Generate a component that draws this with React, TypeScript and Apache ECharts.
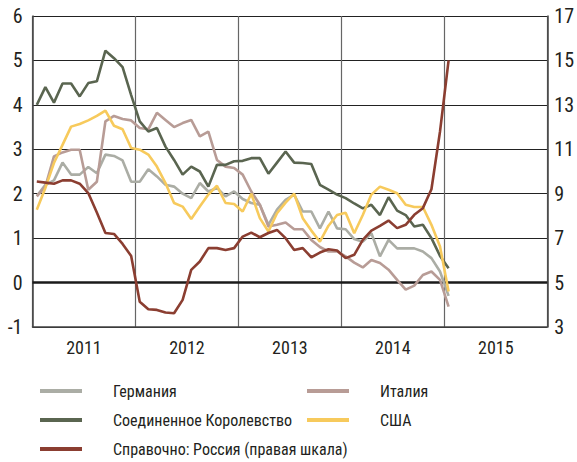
import React, { useEffect, useRef } from "react";
import * as echarts from "echarts";

const years = ["2011", "2012", "2013", "2014", "2015"];
const leftTicks = [-1, 0, 1, 2, 3, 4, 5, 6];
const rightTicks = [3, 5, 7, 9, 11, 13, 15, 17];

// Monthly values, Jan 2011 .. Jan 2015
const germany = [
  1.95, 2.2, 2.3, 2.7, 2.43, 2.43, 2.6, 2.46, 2.88, 2.85, 2.75, 2.27,
  2.27, 2.55, 2.39, 2.2, 2.16, 2.0, 1.9, 2.24, 2.05, 2.13, 1.94, 2.05,
  1.88, 1.79, 1.75, 1.3, 1.64, 1.86, 1.98, 1.6, 1.6, 1.22, 1.6, 1.22,
  1.2, 0.98, 0.92, 1.11, 0.59, 0.96, 0.77, 0.77, 0.77, 0.7, 0.55, 0.25, -0.3,
];
const italy = [
  1.94, 2.16, 2.84, 2.93, 2.99, 2.99, 2.09, 2.27, 3.63, 3.75, 3.68, 3.65,
  3.48, 3.45, 3.82, 3.66, 3.5, 3.59, 3.66, 3.29, 3.4, 2.76, 2.61, 2.58,
  2.43, 2.05, 1.75, 1.26, 1.3, 1.35, 1.2, 1.2, 0.96, 0.8, 0.7, 0.7,
  0.59, 0.45, 0.34, 0.51, 0.44, 0.29, 0.06, -0.16, -0.07, 0.17, 0.25, 0.06, -0.54,
];
const uk = [
  4.0, 4.4, 4.05, 4.48, 4.48, 4.19, 4.49, 4.53, 5.22, 5.05, 4.85, 4.22,
  3.63, 3.4, 3.48, 3.06, 2.76, 2.43, 2.61, 2.5, 2.16, 2.65, 2.65, 2.73,
  2.74, 2.8, 2.8, 2.45, 2.7, 2.95, 2.7, 2.69, 2.67, 2.2, 2.09, 1.98,
  1.9, 1.78, 1.67, 1.75, 1.52, 1.92, 1.62, 1.52, 1.26, 1.3, 1.0, 0.6, 0.32,
];
const usa = [
  1.64, 2.13, 2.69, 3.1, 3.51, 3.57, 3.65, 3.75, 3.87, 3.53, 3.45, 3.03,
  2.99, 2.88, 2.61, 2.24, 1.79, 1.71, 1.43, 1.71, 1.98, 2.18, 1.79, 1.77,
  1.6, 2.0, 1.45, 1.15, 1.56, 1.8, 2.0, 1.45, 1.17, 0.92, 1.28, 1.52,
  1.57, 1.11, 1.52, 1.98, 2.16, 2.09, 2.01, 1.75, 1.7, 1.7, 1.3, 0.81, -0.2,
];
const russia = [
  9.55, 9.5, 9.45, 9.6, 9.6, 9.45, 9.03, 8.15, 7.23, 7.19, 6.74, 6.2,
  4.14, 3.8, 3.77, 3.65, 3.62, 4.22, 5.57, 5.95, 6.55, 6.55, 6.47, 6.55,
  7.07, 7.25, 7.04, 7.23, 7.37, 7.0, 6.47, 6.55, 6.14, 6.35, 6.5, 6.44,
  6.1, 6.25, 6.92, 7.34, 7.55, 7.79, 7.45, 7.6, 8.05, 8.35, 9.2, 11.8, 15.0,
];

const names = {
  de: "Германия",
  it: "Италия",
  uk: "Соединенное Королевство",
  us: "США",
  ru: "Справочно: Россия (правая шкала)",
};

const FONT = "'Roboto Condensed', 'Liberation Sans', sans-serif";
const TXT = "#231f20";

const toPoints = (arr: number[]) => arr.map((v, i) => [i + 0.5, v]);

export default function App() {
  const ref = useRef<HTMLDivElement>(null);
  useEffect(() => {
    if (!ref.current) return;
    const chart = echarts.init(ref.current, undefined, { renderer: "svg" });
    const mkSeries = (name: string, data: number[], color: string, yAxisIndex = 0, z = 2) => ({
      name,
      type: "line",
      data: toPoints(data),
      yAxisIndex,
      showSymbol: false,
      symbol: "none",
      z,
      lineStyle: { color, width: 2.6 },
      itemStyle: { color },
    });
    const mkLegend = (name: string, left: number, top: number) => ({
      data: [name],
      left,
      top,
      padding: 0,
      icon: "rect",
      itemWidth: 42,
      itemHeight: 4,
      selectedMode: false,
      textStyle: {
        fontFamily: FONT,
        fontSize: 16,
        color: TXT,
        padding: [0, 0, 0, 26],
        lineHeight: 20,
      },
    });
    chart.setOption({
      animation: false,
      backgroundColor: "#ffffff",
      grid: { left: 32.5, right: 27, top: 16, bottom: 135, containLabel: false },
      legend: [
        mkLegend(names.de, 40, 381),
        mkLegend(names.it, 307, 381),
        mkLegend(names.uk, 40, 410),
        mkLegend(names.us, 307, 410),
        mkLegend(names.ru, 40, 439),
      ],
      xAxis: {
        type: "value",
        min: 0,
        max: 60,
        interval: 12,
        axisLine: { show: true, onZero: false, lineStyle: { color: "#444", width: 1.5 } },
        axisTick: { show: false },
        splitLine: { show: true, lineStyle: { color: "#666", width: 1.2 } },
        axisLabel: {
          customValues: [6, 18, 30, 42, 54],
          formatter: (v: number) => years[Math.round((v - 6) / 12)] ?? "",
          fontFamily: FONT,
          fontSize: 18,
          color: TXT,
          margin: 11,
        },
      },
      yAxis: [
        {
          type: "value",
          min: -1,
          max: 6,
          interval: 1,
          axisLine: { show: true, lineStyle: { color: "#444", width: 1.5 } },
          axisTick: { show: false },
          splitLine: { show: true, lineStyle: { color: "#222", width: 1.2 } },
          axisLabel: {
            customValues: leftTicks,
            fontFamily: FONT,
            fontSize: 20,
            color: TXT,
            margin: 10,
          },
        },
        {
          type: "value",
          min: 3,
          max: 17,
          position: "right",
          axisLine: { show: true, lineStyle: { color: "#444", width: 1.5 } },
          axisTick: { show: false },
          splitLine: { show: false },
          axisLabel: {
            customValues: rightTicks,
            fontFamily: FONT,
            fontSize: 20,
            color: TXT,
            margin: 7,
          },
        },
      ],
      series: [
        {
          ...mkSeries(names.de, germany, "#abada5", 0, 2),
          markLine: {
            silent: true,
            symbol: "none",
            label: { show: false },
            lineStyle: { color: "#1a1a1a", width: 2.6, type: "solid" },
            data: [{ yAxis: 0 }],
            z: 1,
          },
        },
        mkSeries(names.it, italy, "#b89c96", 0, 3),
        mkSeries(names.uk, uk, "#5a6550", 0, 4),
        mkSeries(names.us, usa, "#f7ca5c", 0, 5),
        mkSeries(names.ru, russia, "#8b3e31", 1, 6),
      ],
    });
    return () => chart.dispose();
  }, []);
  return <div ref={ref} style={{ width: 577, height: 462, position: "fixed", left: 0, top: 0 }} />;
}
